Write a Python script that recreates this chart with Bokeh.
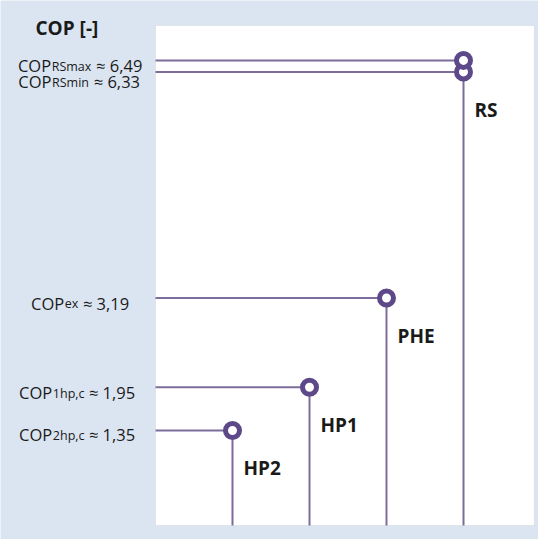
from bokeh.plotting import figure
from bokeh.models import Range1d, ColumnDataSource, BoxAnnotation
from bokeh.core.properties import value
from bokeh.embed import file_html
from bokeh.resources import INLINE

# ---- data ----
units = ["HP2", "HP1", "PHE", "RS"]
unit_x = [1, 2, 3, 4]
unit_cop = [1.35, 1.95, 3.19, 6.33]
rs_max_cop = 6.49

row_subs = ["RSmax", "RSmin", "ex", "1hp,c", "2hp,c"]
row_vals = [6.49, 6.33, 3.19, 1.95, 1.35]
row_unit = [4, 4, 3, 2, 1]
title_text = "COP [-]"

# ---- styles / layout ----
BLUE = "#dbe5f1"
LINE = "#7d6d9b"
RING = "#5d4889"
TXT = "#1a1a1a"
FONT = "Open Sans"
MAIN_PX, SUB_PX, GAP = 16.5, 12.5, 5
PLOT_X0, PLOT_X1 = 0, 4.92        # white plotting area (data units)
PLOT_Y0, PLOT_Y1 = 0.03, 6.975
FRAME_LEFT = 163                  # page px of the white area's left edge
# per-row label layout: (span start px, span end px, baseline drop px)
row_layout = [(22, 153, 5.5), (22, 151, 9.5), (35, 140, 5), (22, 147, 5), (22, 147, 4.2)]

# approximate Open Sans advance widths (em) for label chaining
_W = {'C': .633, 'O': .781, 'P': .603, 'R': .635, 'S': .55, 'm': .923, 'a': .556,
      'x': .524, 'i': .253, 'n': .614, 'e': .561, 'h': .614, 'p': .614, 'c': .48,
      ',': .244, ' ': .26, '\u2248': .572}


def tw(s, px):
    return sum(_W.get(ch, .572) for ch in s) * px


p = figure(width=538, height=539, output_backend="svg", toolbar_location=None,
           x_range=Range1d(-2.013, 4.974), y_range=Range1d(-0.164, 7.322),
           min_border=0)
p.axis.visible = False
p.grid.visible = False
p.border_fill_color = BLUE
p.background_fill_color = BLUE
p.outline_line_color = None

p.add_layout(BoxAnnotation(left=PLOT_X0, right=PLOT_X1, bottom=PLOT_Y0, top=PLOT_Y1,
                           fill_color="white", fill_alpha=1.0,
                           line_color="#c4c4c4", line_width=1, level="underlay"))

# horizontal lines from the axis to each point
p.segment(x0=[PLOT_X0] * len(row_vals), y0=row_vals, x1=row_unit, y1=row_vals,
          line_color=LINE, line_width=2)
# vertical stems
p.segment(x0=unit_x, y0=[PLOT_Y0] * len(unit_x), x1=unit_x, y1=unit_cop,
          line_color=LINE, line_width=2)

# markers
p.scatter(x=unit_x + [4], y=unit_cop + [rs_max_cop], size=14, fill_color="white",
          line_color=RING, line_width=5)

# unit labels
src = ColumnDataSource(dict(x=unit_x, y=unit_cop, t=units))
p.text(x="x", y="y", text="t", source=src, x_offset=11, y_offset=38,
       text_font=value(FONT), text_font_style="bold", text_font_size="19px",
       text_baseline="middle", text_align="left", text_color=TXT)

# left labels (COP + subscript + "≈ value"), chained and centred on the reference span
mains, rests, xo_m, xo_s, xo_r, yo = [], [], [], [], [], []
for (s0, s1, drop), sub, v in zip(row_layout, row_subs, row_vals):
    rest = "\u2248 " + ("%.2f" % v).replace(".", ",")
    wm, ws, wr = tw("COP", MAIN_PX), tw(sub, SUB_PX), tw(rest, MAIN_PX)
    start = (s0 + s1) / 2 - (wm + ws + GAP + wr) / 2
    mains.append("COP")
    rests.append(rest)
    xo_m.append(start - FRAME_LEFT)
    xo_s.append(start + wm + 0.5 - FRAME_LEFT)
    xo_r.append(start + wm + ws + GAP - FRAME_LEFT)
    yo.append(drop)

lab = ColumnDataSource(dict(x=[PLOT_X0] * len(row_vals), y=row_vals, main=mains,
                            sub=row_subs, rest=rests, xo_main=xo_m, xo_sub=xo_s,
                            xo_rest=xo_r, yo=yo, yo_sub=[d + 0.8 for d in yo]))
p.text(x="x", y="y", text="main", source=lab, x_offset="xo_main", y_offset="yo",
       text_font=value(FONT), text_font_size="%spx" % MAIN_PX, text_color=TXT,
       text_baseline="alphabetic", text_align="left")
p.text(x="x", y="y", text="sub", source=lab, x_offset="xo_sub", y_offset="yo_sub",
       text_font=value(FONT), text_font_size="%spx" % SUB_PX, text_color=TXT,
       text_baseline="alphabetic", text_align="left")
p.text(x="x", y="y", text="rest", source=lab, x_offset="xo_rest", y_offset="yo",
       text_font=value(FONT), text_font_size="%spx" % MAIN_PX, text_color=TXT,
       text_baseline="alphabetic", text_align="left")

# title
p.text(x=[PLOT_X0], y=[PLOT_Y1], text=[title_text], x_offset=43 - FRAME_LEFT, y_offset=3,
       text_font=value(FONT), text_font_size="19px", text_font_style="bold",
       text_color=TXT, text_baseline="alphabetic", text_align="left")

open("out.html", "w").write(file_html(p, INLINE))
